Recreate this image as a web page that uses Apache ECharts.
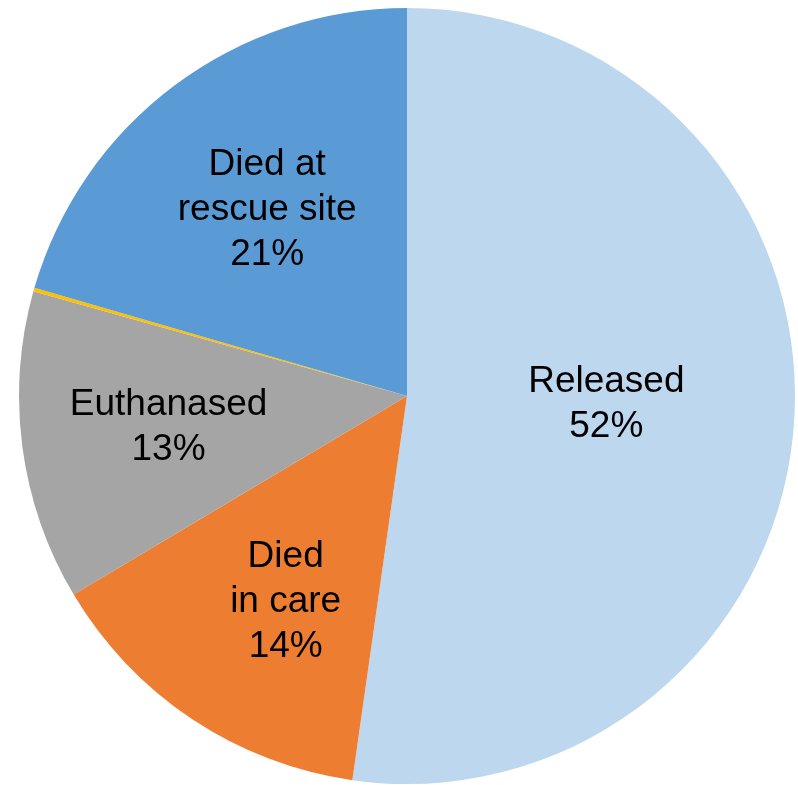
<!DOCTYPE html>
<html>
<head>
<meta charset="utf-8">
<script src="https://cdn.jsdelivr.net/npm/echarts@6/dist/echarts.min.js"></script>
<style>
html,body{margin:0;padding:0;background:#fff;}
#chart{width:798px;height:785px;}
</style>
</head>
<body>
<div id="chart"></div>
<script>
var categories = ['Released', 'Died\nin care', 'Euthanased', 'Unknown', 'Died at\nrescue site'];
var values = [52.25, 14.2, 12.9, 0.15, 20.5];
var showLabel = [true, true, true, false, true];

var colors = ['#BDD7EE', '#ED7D31', '#A5A5A5', '#FFC000', '#5B9BD5'];
var labelFactor = [0.515, 0.62, 0.62, 0.6, 0.6];
var labelShift = [[0, -6], [12, 6], [0, 0], [0, 0], [0, 0]];
var center = [407, 396];
var radius = 388;

var total = values.reduce(function (a, b) { return a + b; }, 0);
var midAngles = [];
var cum = 0;
values.forEach(function (v) {
  midAngles.push((cum + v / 2) / total * 2 * Math.PI);
  cum += v;
});

var chart = echarts.init(document.getElementById('chart'), null, {renderer: 'canvas'});
chart.setOption({
  animation: false,
  series: [{
    type: 'pie',
    center: center,
    radius: radius,
    startAngle: 90,
    clockwise: true,
    avoidLabelOverlap: false,
    data: categories.map(function (c, i) {
      return {
        name: c,
        value: values[i],
        itemStyle: {color: colors[i]},
        label: {show: showLabel[i]}
      };
    }),
    itemStyle: {borderWidth: 0},
    emphasis: {disabled: true},
    label: {
      position: 'inside',
      color: '#000',
      fontFamily: 'Liberation Sans, Arial, sans-serif',
      fontSize: 37,
      lineHeight: 45,
      align: 'center',
      verticalAlign: 'middle',
      formatter: function (p) {
        return p.name + '\n' + Math.round(p.value) + '%';
      }
    },
    labelLine: {show: false},
    labelLayout: function (params) {
      var i = params.dataIndex;
      var a = midAngles[i];
      var d = radius * labelFactor[i];
      return {
        x: center[0] + d * Math.sin(a) + labelShift[i][0],
        y: center[1] - d * Math.cos(a) + labelShift[i][1],
        align: 'center',
        verticalAlign: 'middle'
      };
    }
  }]
});
</script>
</body>
</html>
